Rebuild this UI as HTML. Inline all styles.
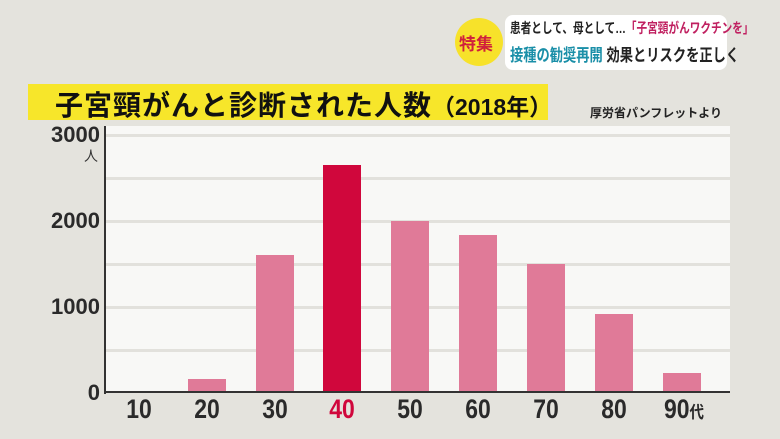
<!DOCTYPE html>
<html><head><meta charset="utf-8"><style>
body{margin:0;width:780px;height:439px;overflow:hidden;background:#e4e3dd;font-family:"Liberation Sans","Noto Sans CJK JP",sans-serif;position:relative}
.a{position:absolute}
.g{position:absolute;left:106px;width:624px;height:3px;background:#e2e1dc}
.b{position:absolute;width:38px;background:#e07a98;bottom:47px}
.xl{position:absolute;top:394px;font-size:27px;color:#2a2a2a;width:68px;text-align:center;transform:scaleX(.85);font-weight:bold}
.yl{position:absolute;left:40px;width:60px;text-align:right;font-size:22px;color:#2a2a2a;font-weight:bold}
</style></head><body>
<div class="a" style="left:104px;top:126px;width:626px;height:267px;background:#f8f8f6"></div>
<div class="g" style="top:134px"></div><div class="g" style="top:177px"></div><div class="g" style="top:220px"></div><div class="g" style="top:263px"></div><div class="g" style="top:306px"></div><div class="g" style="top:349px"></div>
<div class="b" style="left:188px;height:13px"></div>
<div class="b" style="left:256px;height:137px"></div>
<div class="b" style="left:323px;height:227px;background:#d0073c"></div>
<div class="b" style="left:391px;height:171px"></div>
<div class="b" style="left:459px;height:157px"></div>
<div class="b" style="left:527px;height:128px"></div>
<div class="b" style="left:595px;height:78px"></div>
<div class="b" style="left:663px;height:19px"></div>
<div class="a" style="left:104px;top:126px;width:2px;height:268px;background:#333"></div>
<div class="a" style="left:104px;top:391px;width:626px;height:2px;background:#333"></div>
<div class="yl" style="top:122px">3000</div>
<div class="a" style="left:84px;top:146px;font-size:14px;color:#333">人</div>
<div class="yl" style="top:208px">2000</div>
<div class="yl" style="top:294px">1000</div>
<div class="yl" style="top:380px">0</div>
<div class="xl" style="left:105px">10</div>
<div class="xl" style="left:173px">20</div>
<div class="xl" style="left:241px">30</div>
<div class="xl" style="left:308px;color:#d0073c">40</div>
<div class="xl" style="left:376px">50</div>
<div class="xl" style="left:444px">60</div>
<div class="xl" style="left:512px">70</div>
<div class="xl" style="left:580px">80</div>
<div class="xl" style="left:650px">90<span style="font-size:17px">代</span></div>
<div class="a" style="left:28px;top:84px;width:520px;height:36px;background:#f7e62a"></div>
<div class="a" style="left:55px;top:84px;font-size:28px;font-weight:bold;color:#111;white-space:nowrap;letter-spacing:1px">子宮頸がんと診断された人数<span style="font-size:23px;letter-spacing:0">（2018年）</span></div>
<div class="a" style="left:590px;top:104px;font-size:12px;color:#222;font-weight:bold">厚労省パンフレットより</div>
<div class="a" style="left:505px;top:15px;width:222px;height:55px;background:#fff;border-radius:8px"></div>
<div class="a" style="left:455px;top:18px;width:48px;height:48px;background:#f7e22a;border-radius:50%"></div>
<div class="a" style="left:459px;top:30px;font-size:17px;font-weight:bold;color:#d0203c">特集</div>
<div class="a" style="left:510px;top:18px;font-size:14px;font-weight:bold;color:#222;white-space:nowrap;transform:scaleX(.76);transform-origin:0 0">患者として、母として…<span style="color:#c02060">「子宮頸がんワクチンを」</span></div>
<div class="a" style="left:510px;top:41px;font-size:17px;font-weight:bold;color:#1a8fa8;white-space:nowrap;transform:scaleX(.78);transform-origin:0 0">接種の勧奨再開 <span style="color:#222">効果とリスクを正しく</span></div>
</body></html>
